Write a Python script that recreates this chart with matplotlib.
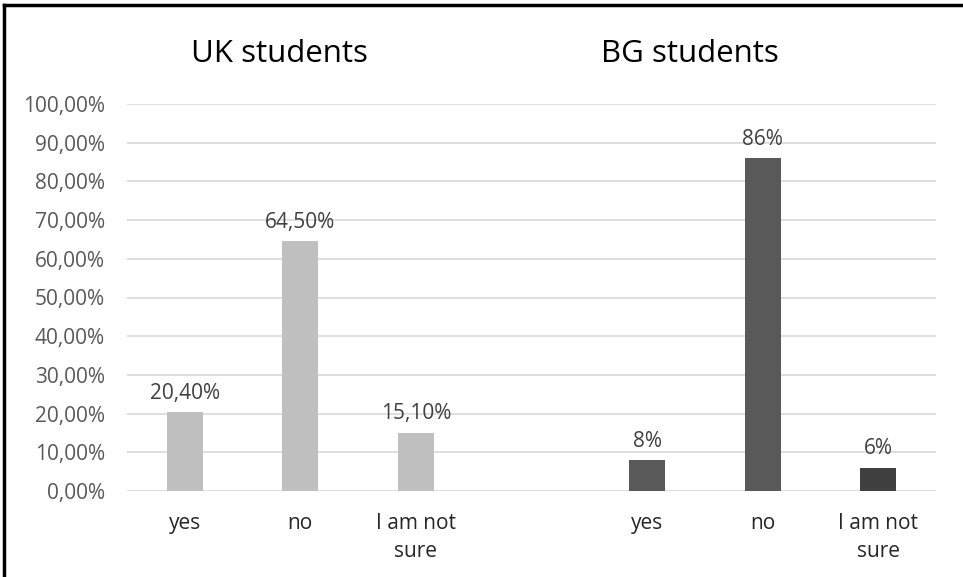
import matplotlib
matplotlib.use("Agg")
import matplotlib.pyplot as plt
import numpy as np

plt.rcParams['font.family'] = ['Open Sans', 'DejaVu Sans']

groups = ["UK students", "BG students"]
categories = ["yes", "no", "I am not\nsure"]
uk_values = [0.204, 0.645, 0.151]
uk_labels = ["20,40%", "64,50%", "15,10%"]
bg_values = [0.08, 0.86, 0.06]
bg_labels = ["8%", "86%", "6%"]
uk_colors = ["#bfbfbf", "#bfbfbf", "#bfbfbf"]
bg_colors = ["#595959", "#595959", "#404040"]
yticks = [i / 10 for i in range(11)]
ytick_labels = [f"{i*10},00%" for i in range(11)]

fig = plt.figure(figsize=(9.63, 5.77), dpi=100)
ax = fig.add_axes([127/963, 1-491/577, (936-127)/963, (491-104)/577])

uk_x = np.arange(3)
bg_x = np.arange(3) + 4
w = 0.31
ax.bar(uk_x, uk_values, width=w, color=uk_colors, zorder=3)
ax.bar(bg_x, bg_values, width=w, color=bg_colors, zorder=3)

for x, v, l in zip(uk_x, uk_values, uk_labels):
    ax.annotate(l, (x, v), xytext=(0, 6), textcoords="offset points",
                ha="center", va="bottom", fontsize=15, color="#404040")
for x, v, l in zip(bg_x, bg_values, bg_labels):
    ax.annotate(l, (x, v), xytext=(0, 6), textcoords="offset points",
                ha="center", va="bottom", fontsize=15, color="#404040")

ax.set_xlim(-0.5, 6.5)
ax.set_ylim(0, 1.0)
ax.set_yticks(yticks)
ax.set_yticklabels(ytick_labels, fontsize=15, color="#595959")
ax.set_xticks(list(uk_x) + list(bg_x))
ax.set_xticklabels(categories + categories, fontsize=15, color="#262626",
                   linespacing=1.45, va="top")
ax.tick_params(axis="both", length=0)
ax.tick_params(axis="x", pad=16)
ax.tick_params(axis="y", pad=16)
ax.grid(axis="y", color="#d9d9d9", linewidth=1.2, zorder=0)
for s in ax.spines.values():
    s.set_visible(False)

fig.text(279/963, 1-62/577, groups[0], ha="center", va="baseline", fontsize=22.5, color="black")
fig.text(690/963, 1-62/577, groups[1], ha="center", va="baseline", fontsize=22.5, color="black")

# border (top & left visible)
fig.add_artist(plt.Line2D([4/963, 4/963], [0, 1-5/577], transform=fig.transFigure, color="black", lw=2.5))
fig.add_artist(plt.Line2D([4/963, 1], [1-5/577, 1-5/577], transform=fig.transFigure, color="black", lw=2.5))

fig.savefig("out.png", dpi=100)
